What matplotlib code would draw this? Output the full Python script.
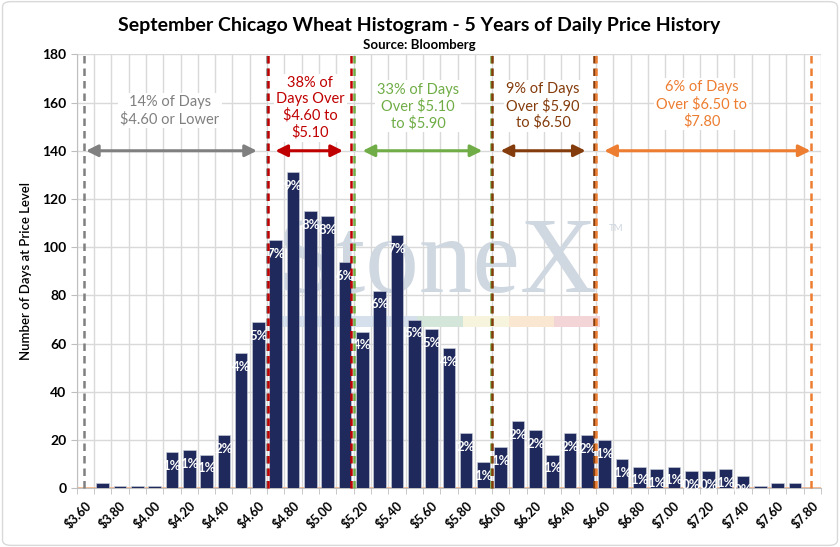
import numpy as np
import matplotlib
matplotlib.use('Agg')
import matplotlib.pyplot as plt
from matplotlib.patches import Rectangle, FancyBboxPatch

plt.rcParams['font.family'] = ['Lato', 'DejaVu Sans']

# days spent in each $0.10 price bucket, $3.60 .. $7.80
days = [0, 2, 1, 1, 1, 15, 16, 14, 22, 56,
        69, 103, 131, 115, 113, 94, 65, 82, 105, 70,
        66, 58, 23, 11, 17, 28, 24, 14, 23, 22,
        20, 12, 9, 8, 9, 7, 7, 8, 5, 1,
        2, 2, 0]
tick_labels = ['$3.60', '$3.80', '$4.00', '$4.20', '$4.40', '$4.60', '$4.80', '$5.00',
               '$5.20', '$5.40', '$5.60', '$5.80', '$6.00', '$6.20', '$6.40', '$6.60',
               '$6.80', '$7.00', '$7.20', '$7.40', '$7.60', '$7.80']

# price bands (in bucket units)
band_names = ['14% of Days\n$4.60 or Lower',
              '38% of\nDays Over\n$4.60 to\n$5.10',
              '33% of Days\nOver $5.10\nto $5.90',
              '9% of Days\nOver $5.90\nto $6.50',
              '6% of Days\nOver $6.50 to\n$7.80']
band_colors = ['#808080', '#c00000', '#70ad47', '#843c0c', '#ed7d31']
band_start = [-0.05, 10.57, 15.52, 23.51, 29.48]
band_end = [10.48, 15.35, 23.43, 29.40, 41.90]
arrow_start = [0.04, 10.98, 16.02, 23.99, 29.98]
arrow_end = [9.91, 14.88, 22.93, 28.90, 41.89]
text_x = [4.89, 12.98, 19.23, 26.44, 35.6]
text_y = [156.6, 157.8, 158.4, 158.5, 159.3]

fig = plt.figure(figsize=(8.4, 5.47), dpi=100)
ax = fig.add_axes([0.0913, 0.1073, 0.8861, 0.7934])

xs = np.arange(len(days))
ax.bar(xs, days, width=0.73, color='#1f295b', edgecolor='#d0d4e0', linewidth=0.4, zorder=3)

total = sum(days)
for i, d in enumerate(days):
    if d >= 5:
        ax.annotate('%d%%' % round(100.0 * d / total), (i, d), xytext=(0, -10),
                    textcoords='offset points', ha='center', va='center',
                    color='white', fontsize=9.5, fontweight='bold', zorder=4)

# watermark
ax.text(0.33, 0.466, 'StoneX', transform=fig.transFigure, family='Liberation Serif',
        fontsize=77, color='#cfd7e0', va='baseline', ha='left', zorder=1)
ax.text(0.725, 0.583, 'TM', transform=fig.transFigure, fontsize=7, color='#cfd7e0',
        va='center', ha='left', zorder=1)
strip = [(10.59, 19.17, '#d6e0ec'), (19.17, 21.83, '#d4e6da'), (21.83, 24.49, '#f6f4dc'),
         (24.49, 27.07, '#f9e7d2'), (27.07, 29.73, '#f3d5d7')]
for a, b, c in strip:
    ax.add_patch(Rectangle((a, 66.7), b - a, 4.9, color=c, zorder=1, lw=0))

ax.axhline(0, color='#f4b183', lw=1.2, zorder=2)

for i in range(5):
    c = band_colors[i]
    for xv in (band_start[i], band_end[i]):
        ax.plot([xv, xv], [0, 180], color=c, lw=1.8, dashes=(3, 2), zorder=5,
                solid_capstyle='butt', clip_on=False)
    ax.annotate('', xy=(arrow_end[i], 140), xytext=(arrow_start[i], 140),
                arrowprops=dict(arrowstyle='<|-|>,head_length=0.7,head_width=0.35',
                                color=c, lw=2.2, shrinkA=0, shrinkB=0), zorder=5)
    ax.text(text_x[i], text_y[i], band_names[i], ha='center', va='center', color=c,
            fontsize=10.5, linespacing=1.2, zorder=4,
            bbox=dict(boxstyle='square,pad=0.15', fc='white', ec='none'))

ax.set_xlim(-0.5, 42.5)
ax.set_ylim(0, 180)
ax.set_yticks(range(0, 181, 20))
ax.set_xticks(range(0, 43, 2))
ax.set_xticklabels(tick_labels, rotation=45, ha='right', rotation_mode='anchor',
                   fontsize=9, fontweight='bold')
ax.set_xticks(np.arange(-0.5, 43, 1), minor=True)
ax.tick_params(axis='x', which='major', length=0, pad=8)
ax.tick_params(axis='x', which='minor', length=4, color='#bfbfbf')
ax.tick_params(axis='y', length=4, color='#bfbfbf', labelsize=10)
for lab in ax.get_yticklabels():
    lab.set_fontweight('bold')
ax.grid(axis='y', color='#d9d9d9', lw=1, zorder=0)
ax.grid(axis='x', which='minor', color='#d9d9d9', lw=1, zorder=0)
ax.set_axisbelow(True)
for s in ['top', 'right']:
    ax.spines[s].set_visible(False)
ax.spines['left'].set_color('#bfbfbf')
ax.spines['bottom'].set_color('#bfbfbf')
ax.set_ylabel('Number of Days at Price Level', fontsize=9.5, fontweight='semibold',
              labelpad=7)

fig.text(0.499, 0.953, 'September Chicago Wheat Histogram - 5 Years of Daily Price History',
         ha='center', va='center', fontsize=14, fontweight='bold')
fig.text(0.499, 0.917, 'Source: Bloomberg', ha='center', va='center', fontsize=9.5,
         fontweight='bold')

fig.patches.append(FancyBboxPatch((0.003, 0.003), 0.994, 0.994,
                                  boxstyle='round,pad=0,rounding_size=0.01',
                                  transform=fig.transFigure, fill=False,
                                  ec='#d9d9d9', lw=1))

fig.savefig('out.png', dpi=100)
